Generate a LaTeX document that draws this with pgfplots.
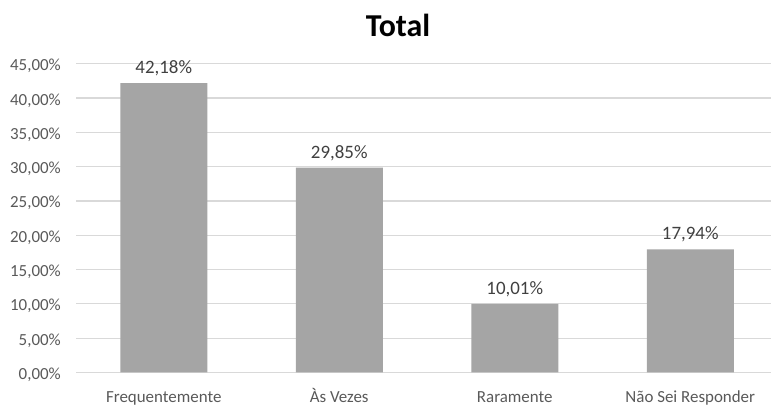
\documentclass[border=0pt]{standalone}
\usepackage{pgfplots}
\pgfplotsset{compat=1.18}
\usepackage{fontspec}
\setmainfont{Carlito}
\definecolor{barc}{HTML}{A5A5A5}
\definecolor{gridc}{HTML}{D9D9D9}
\definecolor{tickc}{HTML}{595959}
\definecolor{labc}{HTML}{404040}
\begin{document}
\begin{tikzpicture}
\path[use as bounding box] (0,0) rectangle (771bp,406bp);
\begin{axis}[
  at={(76bp,33.5bp)}, anchor=south west,
  scale only axis, width=695bp, height=308.7bp,
  xmin=-0.5, xmax=3.46, ymin=0, ymax=45,
  ybar, bar width=87bp,
  axis x line*=bottom,
  axis y line*=left,
  x axis line style={draw=gridc, line width=1.2bp, -},
  y axis line style={draw=none},
  ytick={0,5,10,15,20,25,30,35,40,45},
  yticklabels={{0,00\%},{5,00\%},{10,00\%},{15,00\%},{20,00\%},{25,00\%},{30,00\%},{35,00\%},{40,00\%},{45,00\%}},
  xtick=data,
  xticklabels={Frequentemente,Às Vezes,Raramente,Não Sei Responder},
  major tick length=0pt,
  ymajorgrids, grid style={gridc, line width=1.2bp},
  clip=false,
  ticklabel style={text=tickc, font=\fontsize{17}{17}\selectfont, inner sep=0pt},
  yticklabel style={anchor=base east, xshift=-15bp, yshift=-7bp},
  xticklabel style={anchor=base, yshift=-30bp},
  point meta=explicit symbolic,
  nodes near coords,
  every node near coord/.append style={anchor=base, inner sep=0pt, yshift=9.5bp, text=labc, font=\fontsize{19}{19}\selectfont},
]
\addplot[fill=barc, draw=none] coordinates {(0,42.18) [42,18\%] (1,29.85) [29,85\%] (2,10.01) [10,01\%] (3,17.94) [17,94\%]};
\end{axis}
\node[anchor=base, inner sep=0pt, font=\fontsize{32}{32}\selectfont\bfseries] at (398bp,369.3bp) {Total};
\end{tikzpicture}
\end{document}
